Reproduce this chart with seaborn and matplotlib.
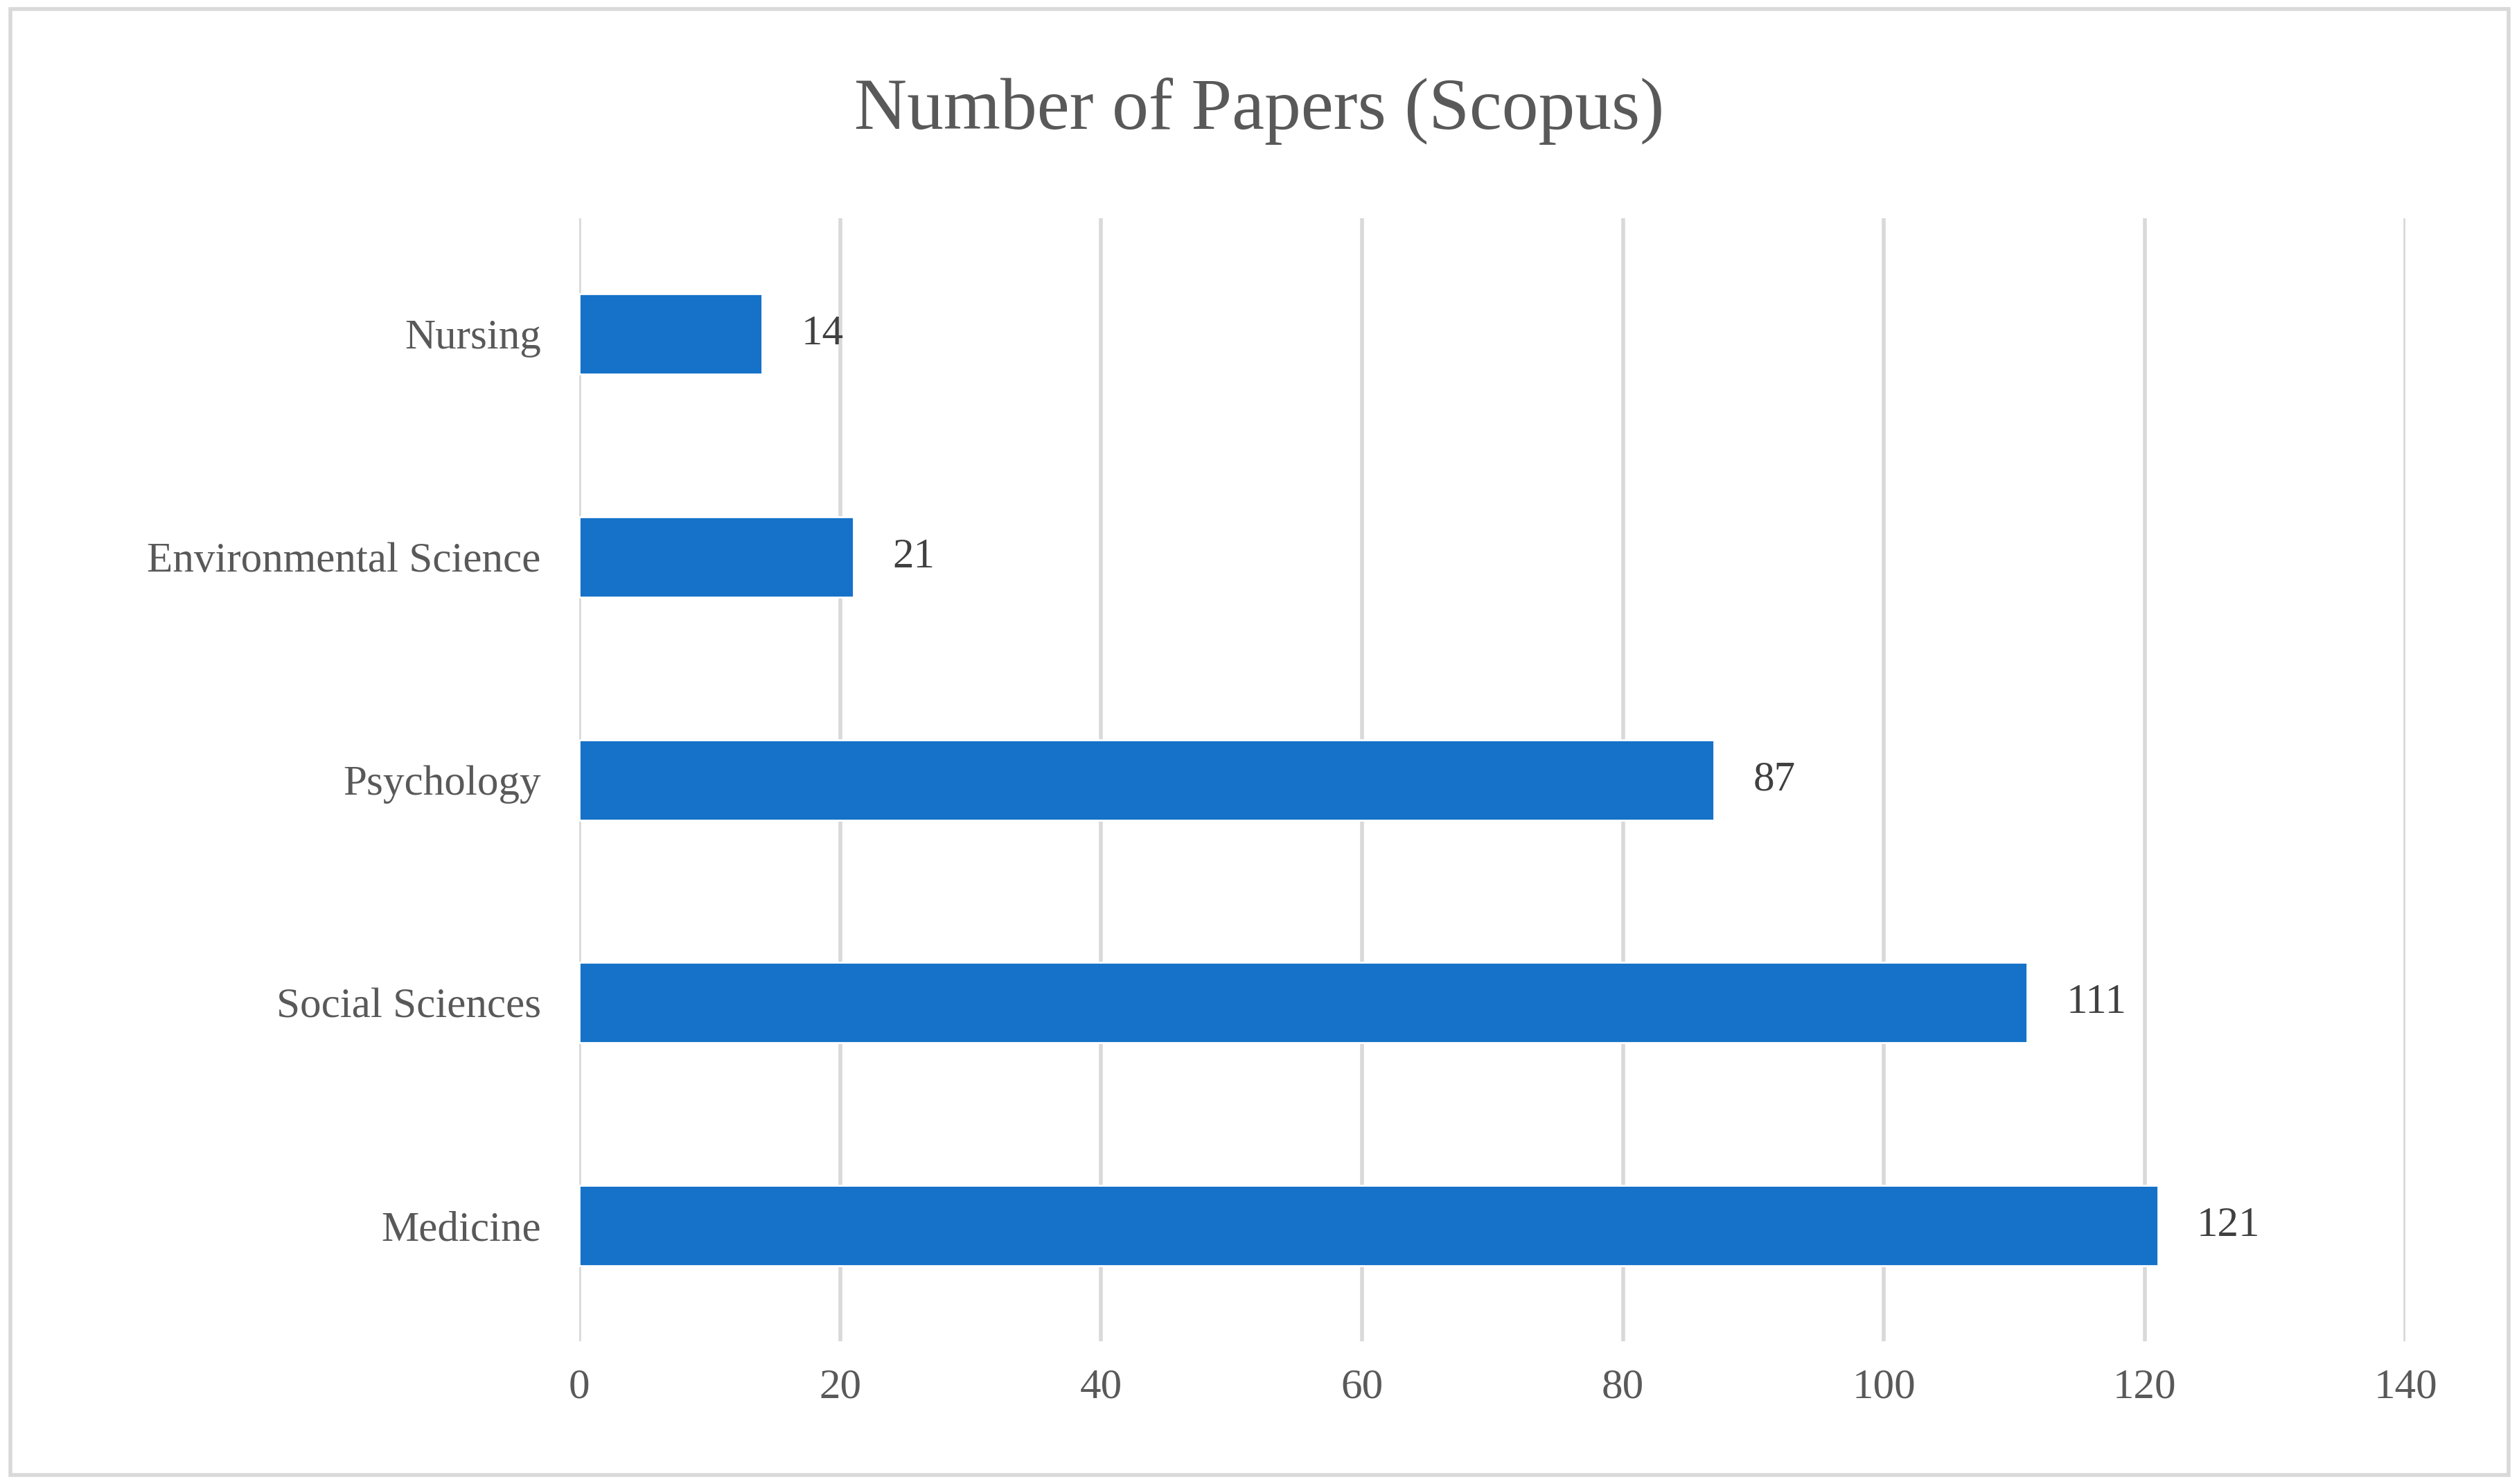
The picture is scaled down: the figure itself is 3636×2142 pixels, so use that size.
import matplotlib
matplotlib.use("Agg")
import matplotlib.pyplot as plt
import seaborn as sns
import pandas as pd

categories = ["Nursing", "Environmental Science", "Psychology", "Social Sciences", "Medicine"]
papers = [14, 21, 87, 111, 121]
xticks = [0, 20, 40, 60, 80, 100, 120, 140]

sns.set_style("white")
plt.rcParams['font.family'] = ['Liberation Serif', 'DejaVu Serif']

df = pd.DataFrame({"category": categories, "papers": papers})

fig = plt.figure(figsize=(18.18, 10.71), dpi=200)
ax = fig.add_axes([0.230, 0.096, 0.725, 0.757])
sns.barplot(data=df, x="papers", y="category", color="#1572C8", saturation=1,
            width=0.36, ax=ax, zorder=3)

for i, v in enumerate(papers):
    ax.text(v + 3, i, str(v), va="center", ha="left", fontsize=22, color="#404040")

ax.set_xlim(0, 140)
ax.set_ylim(4.52, -0.52)
ax.set_xticks(xticks)
ax.set_xticklabels([str(t) for t in xticks])
ax.grid(axis="x", color="#D9D9D9", linewidth=2, zorder=0)
for s in ax.spines.values():
    s.set_visible(False)
ax.tick_params(axis="both", length=0, labelsize=22, labelcolor="#595959")
ax.tick_params(axis="x", pad=14)
ax.tick_params(axis="y", pad=20)
ax.set_xlabel("")
ax.set_ylabel("")

fig.text(0.5, 0.925, "Number of Papers (Scopus)", ha="center", va="center",
         fontsize=38, color="#595959")
fig.patches.append(plt.Rectangle((0.004, 0.006), 0.992, 0.988, transform=fig.transFigure,
                                 fill=False, edgecolor="#D9D9D9", linewidth=2))

fig.savefig("out.png", dpi=200)
